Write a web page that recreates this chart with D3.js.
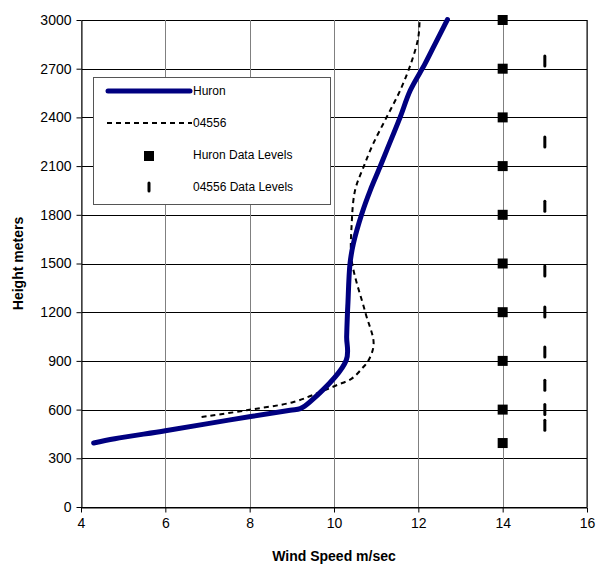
<!DOCTYPE html>
<html lang="en">
<head>
  <meta charset="UTF-8">
  <title>Wind Speed Profile</title>
  <script src="https://cdn.jsdelivr.net/npm/d3@7.6.1/dist/d3.min.js"></script>
  <style>
    body { margin: 0; background: #fff; }
    svg { display: block; font-family: Arial, "Liberation Sans", sans-serif; }
  </style>
</head>
<body>
  <div id="box"></div>
  <script>
    const width = 597
    const height = 567
    const margin = { left: 81, right: 10, top: 20, bottom: 60 }

    // Huron profile (wind speed m/s, height m)
    const huronSpeed = [4.3, 4.8, 6.0, 7.5, 8.96, 9.2, 9.43, 10.29, 10.3, 10.32, 10.33, 10.38, 10.46, 10.66, 10.86, 11.09, 11.25, 11.57, 11.81, 12.16, 12.44, 12.69]
    const huronHeight = [394, 420, 470, 535, 596, 606, 647, 904, 1050, 1201, 1253, 1500, 1623, 1807, 1951, 2094, 2197, 2402, 2567, 2731, 2875, 3003]

    // 04556 profile
    const obsSpeed = [6.86, 7.93, 9.04, 9.67, 10.06, 10.42, 10.66, 10.82, 10.94, 10.74, 10.42, 10.42, 10.5, 10.7, 10.93, 11.25, 11.57, 11.85, 12.0, 12.03]
    const obsHeight = [554, 596, 647, 708, 750, 791, 852, 904, 1006, 1201, 1520, 1746, 1951, 2094, 2238, 2402, 2567, 2751, 2895, 2998]

    // data level markers
    const huronLevels = [3000, 2700, 2400, 2100, 1800, 1500, 1200, 900, 600, 394]
    const obsLevels = [2747, 2248, 1852, 1454, 1201, 955, 750, 600, 503]

    const xTicks = [4, 6, 8, 10, 12, 14, 16]
    const yTicks = [0, 300, 600, 900, 1200, 1500, 1800, 2100, 2400, 2700, 3000]

    const svg = d3.select('#box').append('svg')
      .attr('width', width)
      .attr('height', height)

    const x = d3.scaleLinear().domain([4, 16]).range([margin.left, width - margin.right])
    const y = d3.scaleLinear().domain([0, 3000]).range([height - margin.bottom, margin.top])

    const x0 = x(4), x1 = x(16), y0 = y(0), y1 = y(3000)

    // grid
    svg.append('g').selectAll('line').data(yTicks).join('line')
      .attr('x1', x0).attr('x2', x1)
      .attr('y1', d => Math.round(y(d)) + 0.5).attr('y2', d => Math.round(y(d)) + 0.5)
      .attr('stroke', '#000').attr('stroke-width', 1)
    svg.append('g').selectAll('line').data(xTicks).join('line')
      .attr('y1', y0).attr('y2', y1)
      .attr('x1', d => Math.round(x(d)) + 0.5).attr('x2', d => Math.round(x(d)) + 0.5)
      .attr('stroke', '#808080').attr('stroke-width', 1)

    // axes
    const xAxis = d3.axisBottom(x).tickValues(xTicks).tickSize(5).tickSizeOuter(0).tickPadding(6)
    const gx = svg.append('g')
      .attr('transform', `translate(0,${Math.round(y0) + 0.5})`)
      .call(xAxis)
    gx.selectAll('text').attr('font-size', 14).attr('fill', '#000').attr('font-family', 'Arial, "Liberation Sans", sans-serif')
    gx.select('.domain').attr('stroke', '#000')

    const yAxis = d3.axisLeft(y).tickValues(yTicks).tickFormat(d3.format('d')).tickSize(5).tickSizeOuter(0).tickPadding(5)
    const gy = svg.append('g')
      .attr('transform', `translate(${Math.round(x0) + 0.5},0)`)
      .call(yAxis)
    gy.selectAll('text').attr('font-size', 14).attr('fill', '#000').attr('font-family', 'Arial, "Liberation Sans", sans-serif')
    gy.select('.domain').attr('stroke', '#000')

    // right border
    svg.append('line').attr('x1', x1).attr('x2', x1).attr('y1', y0).attr('y2', y1).attr('stroke', '#000')

    // curves
    const line = d3.line().x(d => x(d[0])).y(d => y(d[1])).curve(d3.curveCatmullRom.alpha(0.5))
    svg.append('path')
      .datum(obsSpeed.map((s, i) => [s, obsHeight[i]]))
      .attr('d', line)
      .attr('fill', 'none').attr('stroke', '#000').attr('stroke-width', 2)
      .attr('stroke-dasharray', '5,4')
    svg.append('path')
      .datum(huronSpeed.map((s, i) => [s, huronHeight[i]]))
      .attr('d', line)
      .attr('fill', 'none').attr('stroke', '#000080').attr('stroke-width', 5)
      .attr('stroke-linejoin', 'round').attr('stroke-linecap', 'round')

    // data levels
    svg.append('g').selectAll('rect').data(huronLevels).join('rect')
      .attr('x', x(14) - 5).attr('y', d => y(d) - 5)
      .attr('width', 10).attr('height', 10).attr('fill', '#000')
    svg.append('g').selectAll('line').data(obsLevels).join('line')
      .attr('x1', x(15)).attr('x2', x(15))
      .attr('y1', d => y(d) - 5).attr('y2', d => y(d) + 5)
      .attr('stroke', '#000').attr('stroke-width', 3).attr('stroke-linecap', 'round')

    // axis titles
    svg.append('text')
      .attr('x', (x0 + x1) / 2).attr('y', 561)
      .attr('text-anchor', 'middle').attr('font-size', 14).attr('font-weight', 'bold')
      .text('Wind Speed m/sec')
    svg.append('text')
      .attr('transform', `translate(23,${(y0 + y1) / 2}) rotate(-90)`)
      .attr('text-anchor', 'middle').attr('font-size', 14).attr('font-weight', 'bold')
      .text('Height meters')

    // legend
    const lg = svg.append('g')
    lg.append('rect').attr('x', 93.5).attr('y', 77.5).attr('width', 237).attr('height', 127)
      .attr('fill', '#fff').attr('stroke', '#555')
    lg.append('line').attr('x1', 108).attr('x2', 190).attr('y1', 91).attr('y2', 91)
      .attr('stroke', '#000080').attr('stroke-width', 5).attr('stroke-linecap', 'round')
    lg.append('line').attr('x1', 107).attr('x2', 192).attr('y1', 123).attr('y2', 123)
      .attr('stroke', '#000').attr('stroke-width', 2).attr('stroke-dasharray', '5,4')
    lg.append('rect').attr('x', 144).attr('y', 151).attr('width', 10).attr('height', 10).attr('fill', '#000')
    lg.append('line').attr('x1', 149).attr('x2', 149).attr('y1', 183).attr('y2', 191)
      .attr('stroke', '#000').attr('stroke-width', 3).attr('stroke-linecap', 'round')
    const legendText = ['Huron', '04556', 'Huron Data Levels', '04556 Data Levels']
    lg.selectAll('text').data(legendText).join('text')
      .attr('x', 193).attr('y', (d, i) => 95 + i * 32)
      .attr('font-size', 12).attr('fill', '#000')
      .text(d => d)
  </script>
</body>
</html>
